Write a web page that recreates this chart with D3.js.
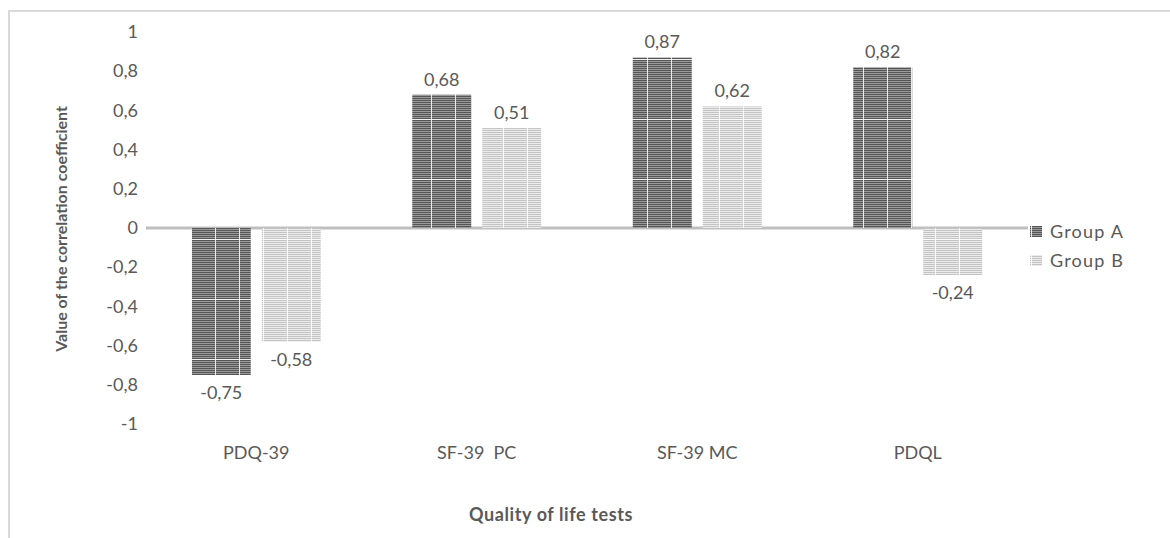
<!DOCTYPE html>
<html><head><meta charset="utf-8">
<script src="https://cdn.jsdelivr.net/npm/d3@7"></script>
<style>body{margin:0;background:#fff}svg{display:block}text{font-family:Lato,"Open Sans",sans-serif;fill:#595959}</style>
</head><body>
<script>
const categories = ["PDQ-39", "SF-39  PC", "SF-39 MC", "PDQL"];
const seriesNames = ["Group A", "Group B"];
const groupA = [-0.75, 0.68, 0.87, 0.82];
const groupB = [-0.58, 0.51, 0.62, -0.24];
const yTicks = [1, 0.8, 0.6, 0.4, 0.2, 0, -0.2, -0.4, -0.6, -0.8, -1];

const W = 1170, H = 538;
const svg = d3.select("body").append("svg").attr("width", W).attr("height", H);
const defs = svg.append("defs");

function makePattern(id, c1, c2) {
  const p = defs.append("pattern").attr("id", id).attr("patternUnits", "userSpaceOnUse")
    .attr("width", 24).attr("height", 60);
  p.append("rect").attr("width", 24).attr("height", 60).attr("fill", c2);
  for (let y = 0; y < 60; y += 2) p.append("rect").attr("y", y).attr("width", 24).attr("height", 1).attr("fill", c1);
  p.append("rect").attr("x", 23).attr("width", 1).attr("height", 60).attr("fill", "#fff").attr("opacity", 0.85);
  p.append("rect").attr("y", 59).attr("width", 24).attr("height", 1).attr("fill", "#fff").attr("opacity", 0.85);
}
makePattern("patA", "#555555", "#9a9a9a");
makePattern("patB", "#c4c4c4", "#ebebeb");
const fills = ["url(#patA)", "url(#patB)"];

// frame
svg.append("path").attr("d", "M9,545 L9,11 L1175,11").attr("fill", "none").attr("stroke", "#d9d9d9").attr("stroke-width", 2);

const x0 = d3.scaleBand().domain(categories).range([146, 1028]);
const x1 = d3.scaleBand().domain(seriesNames).range([0, x0.bandwidth()]).paddingInner(0.157).paddingOuter(0.654);
const y = d3.scaleLinear().domain([-1, 1]).range([424, 32]);

// zero axis line
svg.append("line").attr("x1", 146).attr("x2", 1028).attr("y1", y(0)).attr("y2", y(0))
  .attr("stroke", "#bfbfbf").attr("stroke-width", 3);

// y tick labels
const yAxis = d3.axisLeft(y).tickValues(yTicks).tickSize(0).tickPadding(0)
  .tickFormat(d => d3.format("")(d).replace(".", ",").replace("−", "-"));
const ga = svg.append("g").attr("transform", "translate(138,0)").call(yAxis);
ga.select(".domain").remove();
ga.selectAll("text").attr("font-size", 18).attr("fill", "#595959").style("font-family", "Lato, sans-serif");

const series = [groupA, groupB];
const gBars = svg.append("g");
series.forEach((vals, si) => {
  gBars.selectAll(null).data(vals).enter().append("rect")
    .attr("x", (d, i) => x0(categories[i]) + x1(seriesNames[si]))
    .attr("width", x1.bandwidth())
    .attr("y", d => y(Math.max(0, d)))
    .attr("height", d => Math.abs(y(d) - y(0)))
    .attr("fill", fills[si]);
});

// data labels
const fmt = v => String(v).replace(".", ",");
series.forEach((vals, si) => {
  svg.selectAll(null).data(vals).enter().append("text")
    .attr("x", (d, i) => x0(categories[i]) + x1(seriesNames[si]) + x1.bandwidth() / 2)
    .attr("y", d => d >= 0 ? y(d) - 9 : y(d) + 24)
    .attr("text-anchor", "middle").attr("font-size", 18)
    .text(fmt);
});

// category labels
svg.selectAll(null).data(categories).enter().append("text")
  .attr("x", d => x0(d) + x0.bandwidth() / 2).attr("y", 459)
  .attr("text-anchor", "middle").attr("font-size", 18)
  .attr("xml:space", "preserve").text(d => d);

// axis titles
svg.append("text").attr("x", 551).attr("y", 521).attr("text-anchor", "middle")
  .attr("font-size", 18).attr("font-weight", "bold").attr("letter-spacing", 0.6).text("Quality of life tests");
svg.append("text").attr("transform", "translate(67,229) rotate(-90)").attr("text-anchor", "middle")
  .attr("font-size", 16).attr("font-weight", "bold").text("Value of the correlation coefficient");

// legend
const lg = svg.append("g");
seriesNames.forEach((n, i) => {
  const yy = 226 + i * 29;
  lg.append("rect").attr("x", 1030).attr("y", yy).attr("width", 12).attr("height", 11).attr("fill", fills[i]);
  lg.append("text").attr("x", 1050).attr("y", yy + 12).attr("font-size", 18).attr("letter-spacing", 1.2).text(n);
});
</script>
</body></html>
